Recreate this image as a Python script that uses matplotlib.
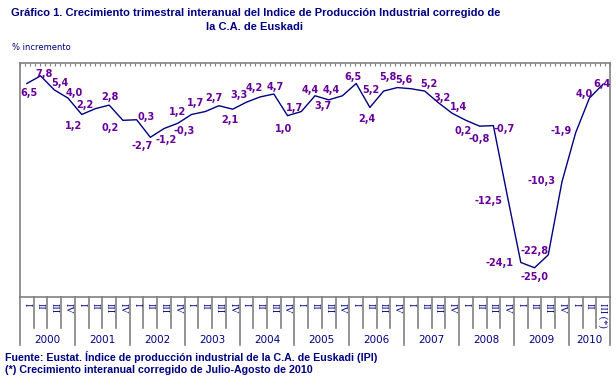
import numpy as np
import matplotlib
matplotlib.use("Agg")
import matplotlib.pyplot as plt
from matplotlib.ticker import MultipleLocator

# datos: crecimiento trimestral interanual del IPI (%)
years = ["2000", "2001", "2002", "2003", "2004", "2005",
         "2006", "2007", "2008", "2009", "2010"]
quarters = ["I", "II", "III", "IV"]
last_quarter_label = "III (*)"
values = [6.5, 7.8, 5.4, 4.0,
          1.2, 2.2, 2.8, 0.2,
          0.3, -2.7, -1.2, -0.3,
          1.2, 1.7, 2.7, 2.1,
          3.3, 4.2, 4.7, 1.0,
          1.7, 4.4, 3.7, 4.4,
          6.5, 2.4, 5.2, 5.8,
          5.6, 5.2, 3.2, 1.4,
          0.2, -0.8, -0.7, -12.5,
          -24.1, -25.0, -22.8, -10.3,
          -1.9, 4.0, 6.4]

# posicion de cada etiqueta respecto al punto (pixeles, y hacia abajo)
label_offsets = [(2, 10), (3, -2), (6, -7), (6, -5),
                 (-8, 12), (-11, -4), (1, -8), (-13, 8),
                 (9, -3), (-8, 9), (2, 11), (6, 8),
                 (-14, -2), (-10, -9), (-5, -8), (-3, 11),
                 (-7, -7), (-6, -9), (1, -7), (-4, 13),
                 (-7, -4), (-5, -6), (-6, 6), (-11, -6),
                 (-3, -6), (-3, 12), (-13, -1), (-9, -11),
                 (-7, -9), (4, -7), (4, -5), (6, -6),
                 (-3, 11), (0, 13), (11, 3), (-19, 6),
                 (-21, 1), (0, 9), (-14, -4), (-20, -1),
                 (-15, -2), (-5, -4), (-1, 0)]

NAVY = "#000080"
PURPLE = "#660099"
GRAY = "#808080"

W, H = 616, 385
fig = plt.figure(figsize=(W / 100, H / 100), dpi=100)
ax = fig.add_axes([20 / W, 1 - 297 / H, 590 / W, 234 / H])

n = len(values)
x = np.arange(n) + 0.5
ax.plot(x, values, color=NAVY, lw=1.0)
ax.set_xlim(0, n)
ax.set_ylim(-30, 10)

for xi, v, (dx, dy) in zip(x, values, label_offsets):
    ax.annotate(f"{v:.1f}".replace(".", ","), (xi, v),
                xytext=(dx * 0.72, -dy * 0.72), textcoords="offset points",
                ha="center", va="center", fontsize=7, fontweight="bold",
                color=PURPLE, family="DejaVu Sans")

for s in ax.spines.values():
    s.set_color(GRAY)
    s.set_linewidth(1.2)
ax.set_yticks([])
ax.xaxis.set_ticks_position("top")
ax.xaxis.set_major_locator(MultipleLocator(n / 118))
ax.tick_params(axis="x", direction="in", length=2, color=GRAY,
               labeltop=False, labelbottom=False)

# tabla de categorias bajo el grafico
tr = ax.get_xaxis_transform()
hpx = 234.0
q_bottom = -31 / hpx
y_bottom = -48 / hpx
for k in range(n + 1):
    yb = y_bottom if k % 4 == 0 or k == n else q_bottom
    ax.plot([k, k], [0, yb], color=GRAY, lw=1.2, transform=tr, clip_on=False)

for k in range(n):
    lab = quarters[k % 4] if k < n - 1 else last_quarter_label
    ax.text(k + 0.5, -6 / hpx, lab, transform=tr, rotation=-90,
            ha="center", va="top", fontsize=7.5, color=NAVY,
            family="Liberation Serif")

for j, yr in enumerate(years):
    start = 4 * j
    end = min(4 * j + 4, n)
    ax.text((start + end) / 2, -43 / hpx, yr, transform=tr, ha="center",
            va="center", fontsize=7.5, color=NAVY, family="DejaVu Sans")

fig.text(256 / W, 1 - 13 / H,
         "Gráfico 1. Crecimiento trimestral interanual del Indice de Producción Industrial corregido de",
         ha="center", va="center", fontsize=8.0, fontweight="bold", color=NAVY,
         family="Liberation Sans")
fig.text(254 / W, 1 - 27 / H, "la C.A. de Euskadi",
         ha="center", va="center", fontsize=8.0, fontweight="bold", color=NAVY,
         family="Liberation Sans")
fig.text(12 / W, 1 - 47 / H, "% incremento", ha="left", va="center",
         fontsize=6, color=NAVY, family="DejaVu Sans")

fig.text(5 / W, 1 - 357 / H,
         "Fuente: Eustat. Índice de producción industrial de la C.A. de Euskadi (IPI)",
         ha="left", va="center", fontsize=7.7, fontweight="bold", color=NAVY,
         family="Liberation Sans")
fig.text(5 / W, 1 - 370 / H,
         "(*) Crecimiento interanual corregido de Julio-Agosto de 2010",
         ha="left", va="center", fontsize=7.7, fontweight="bold", color=NAVY,
         family="Liberation Sans")

fig.savefig("out.png", dpi=100)
